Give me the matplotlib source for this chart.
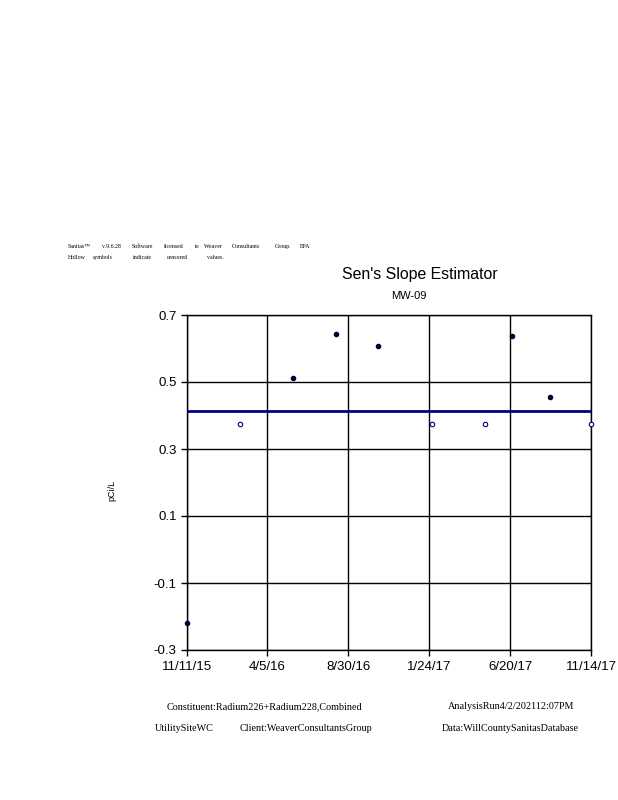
import datetime as dt

import matplotlib
matplotlib.use("Agg")
import matplotlib.pyplot as plt

# data
filled_dates = ["2015-11-11", "2016-05-22", "2016-08-07", "2016-10-23", "2017-06-23", "2017-09-01"]
filled_values = [-0.218, 0.511, 0.642, 0.608, 0.638, 0.455]
hollow_dates = ["2016-02-16", "2017-01-29", "2017-05-05", "2017-11-14"]
hollow_values = [0.375, 0.375, 0.375, 0.375]
sen_line_value = 0.413

x_tick_dates = ["2015-11-11", "2016-04-05", "2016-08-30", "2017-01-24", "2017-06-20", "2017-11-14"]
x_tick_labels = ["11/11/15", "4/5/16", "8/30/16", "1/24/17", "6/20/17", "11/14/17"]
y_ticks = [-0.3, -0.1, 0.1, 0.3, 0.5, 0.7]
y_tick_labels = ["-0.3", "-0.1", "0.1", "0.3", "0.5", "0.7"]

header_line1 = [("Sanitas\u2122", 68), ("v.9.6.28", 102), ("Software", 132), ("licensed", 164),
                ("to", 195), ("Weaver", 204), ("Consultants", 232), ("Group.", 275), ("EPA", 300)]
header_line2 = [("Hollow", 68), ("symbols", 93), ("indicate", 133), ("censored", 167), ("values.", 207)]

footer = [("Constituent:Radium226+Radium228,Combined", 167, 709),
          ("AnalysisRun4/2/202112:07PM", 448, 709),
          ("UtilitySiteWC", 155, 731),
          ("Client:WeaverConsultantsGroup", 240, 731),
          ("Data:WillCountySanitasDatabase", 442, 731)]


def to_dates(lst):
    return [dt.datetime.strptime(d, "%Y-%m-%d") for d in lst]


W, H = 618, 800
fig = plt.figure(figsize=(W / 100, H / 100), dpi=100)
ax = fig.add_axes([187 / W, 1 - 650 / H, (591 - 187) / W, (650 - 315) / H])

navy = "#000080"
ticks = to_dates(x_tick_dates)

ax.axhline(sen_line_value, color=navy, lw=2, zorder=3)
ax.plot(to_dates(filled_dates), filled_values, "o", color="#000033", ms=3, zorder=4, clip_on=False)
ax.plot(to_dates(hollow_dates), hollow_values, "o", mfc="white", mec=navy, mew=0.8, ms=3.2,
        zorder=4, clip_on=False)

ax.set_xlim(ticks[0], ticks[-1])
ax.set_ylim(-0.3, 0.7)
ax.set_xticks(ticks)
ax.set_xticklabels(x_tick_labels)
ax.set_yticks(y_ticks)
ax.set_yticklabels(y_tick_labels)
ax.grid(True, color="black", lw=1)
for s in ax.spines.values():
    s.set_color("black")
    s.set_linewidth(1)
ax.tick_params(axis="both", length=4, width=1, labelsize=9.5, colors="black")
ax.tick_params(axis="x", pad=4)
for lab in ax.get_xticklabels() + ax.get_yticklabels():
    lab.set_family("Liberation Sans")

fig.text(420 / W, 1 - 274 / H, "Sen's Slope Estimator", ha="center", va="center",
         fontsize=11.4, family="Liberation Sans")
fig.text(409 / W, 1 - 296 / H, "MW-09", ha="center", va="center", fontsize=8, family="Liberation Sans")
fig.text(112 / W, 1 - 490 / H, "pCi/L", ha="center", va="center", rotation=90, fontsize=6.5,
         family="Liberation Sans")

for word, x in header_line1:
    fig.text(x / W, 1 - 248 / H, word, ha="left", va="baseline", fontsize=4.2, family="Liberation Serif")
for word, x in header_line2:
    fig.text(x / W, 1 - 259 / H, word, ha="left", va="baseline", fontsize=4.2, family="Liberation Serif")

for txt, x, y in footer:
    fig.text(x / W, 1 - y / H, txt, ha="left", va="baseline", fontsize=7.3, family="Liberation Serif")

fig.savefig("out.png", dpi=100)
